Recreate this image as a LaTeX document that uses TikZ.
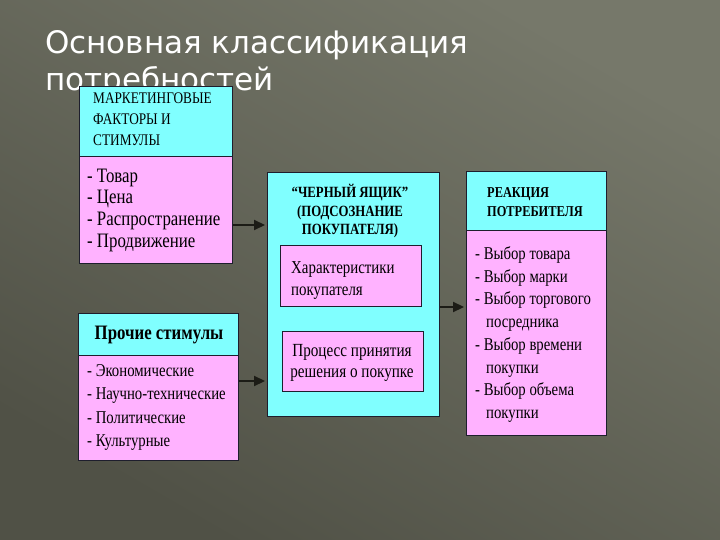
\documentclass[tikz,border=0pt]{standalone}
\usepackage{fontspec}
\setmainfont{Liberation Serif}
\newfontfamily\titlefont{DejaVu Sans}
\newfontfamily\boxfont{Liberation Serif}[FakeStretch=0.82]
\usetikzlibrary{arrows.meta, calc, positioning}

\definecolor{bgdark}{RGB}{80,81,70}
\definecolor{bglight}{RGB}{118,120,106}
\definecolor{boxcyan}{RGB}{128,255,255}
\definecolor{boxpink}{RGB}{255,178,255}
\definecolor{edge}{RGB}{30,30,45}
\definecolor{arrowc}{RGB}{28,28,22}

\tikzset{
  box/.style={draw=edge, line width=1pt, inner sep=0pt, anchor=north west},
  head/.style={box, fill=boxcyan},
  body/.style={box, fill=boxpink},
  txt/.style={inner sep=0pt, anchor=base west, text=black, font=\boxfont\fontsize{18}{20}\selectfont},
  bigtxt/.style={txt, font=\boxfont\fontsize{20.5}{22}\selectfont},
  caps/.style={txt, font=\boxfont\fontsize{16.2}{17}\selectfont},
  bcaps/.style={txt, font=\boxfont\bfseries\fontsize{15.6}{17}\selectfont},
  arr/.style={-{Triangle[length=11pt,width=10pt]}, line width=2.2pt, draw=arrowc, shorten >=2pt},
}

\begin{document}
\begin{tikzpicture}[x=1pt, y=-1pt]
    % Background
    \shade[bottom color=bgdark, top color=bglight, shading angle=-30] (0,0) rectangle (720,540);
    \useasboundingbox (0,0) rectangle (720,540);

    % Title
    \node[anchor=base west, inner sep=0pt, text=white, font=\titlefont\fontsize{31}{38}\selectfont] (title1) at (45,54) {Основная классификация};
    \node[anchor=base west, inner sep=0pt, text=white, font=\titlefont\fontsize{31}{38}\selectfont] (title2) at (45,91) {потребностей};

    % Marketing factors
    \node[head, minimum width=153, minimum height=70] (mkhead) at (79,86) {};
    \node[body, minimum width=153, minimum height=107] (mkbody) at (79,156) {};
    \node[caps] (mkcap1) at (93,104) {МАРКЕТИНГОВЫЕ};
    \node[caps] (mkcap2) at (93,125) {ФАКТОРЫ И};
    \node[caps] (mkcap3) at (93,146) {СТИМУЛЫ};
    \foreach \t [count=\i] in {Товар, Цена, Распространение, Продвижение}
        \node[bigtxt] (mk\i) at (87, {160.5+21.7*\i}) {- \t};

    % Other stimuli
    \node[head, minimum width=160, minimum height=42] (pshead) at (78,313) {};
    \node[body, minimum width=160, minimum height=105] (psbody) at (78,355) {};
    \node[txt, anchor=base, font=\boxfont\bfseries\fontsize{20.5}{20}\selectfont] (pscap) at (159,339) {Прочие стимулы};
    \foreach \t [count=\i] in {Экономические, Научно-технические, Политические, Культурные}
        \node[txt] (ps\i) at (87, {352.5+23.5*\i}) {- \t};

    % Black box
    \node[head, minimum width=172, minimum height=244] (bbox) at (267,172) {};
    \node[bcaps, anchor=base] (bcap1) at (350,198) {“ЧЕРНЫЙ ЯЩИК”};
    \node[bcaps, anchor=base] (bcap2) at (350,216) {(ПОДСОЗНАНИЕ};
    \node[bcaps, anchor=base] (bcap3) at (350,234) {ПОКУПАТЕЛЯ)};
    \node[body, minimum width=141, minimum height=61] (bchar) at (280,245) {};
    \node[txt, font=\boxfont\fontsize{18.2}{20}\selectfont] (bchar1) at (291,273) {Характеристики};
    \node[txt, font=\boxfont\fontsize{18.2}{20}\selectfont] (bchar2) at (291,295) {покупателя};
    \node[body, minimum width=141, minimum height=60] (bproc) at (282,331) {};
    \node[txt, anchor=base, font=\boxfont\fontsize{18.5}{20}\selectfont] (bproc1) at (352,356) {Процесс принятия};
    \node[txt, anchor=base, font=\boxfont\fontsize{18.5}{20}\selectfont] (bproc2) at (352,377) {решения о покупке};

    % Consumer reaction
    \node[head, minimum width=140, minimum height=59] (rhead) at (466,171) {};
    \node[body, minimum width=140, minimum height=205] (rbody) at (466,230) {};
    \node[bcaps, font=\boxfont\bfseries\fontsize{15.1}{16}\selectfont] (rcap1) at (487,197) {РЕАКЦИЯ};
    \node[bcaps, font=\boxfont\bfseries\fontsize{15.1}{16}\selectfont] (rcap2) at (487,216) {ПОТРЕБИТЕЛЯ};
    \node[txt] (r1) at (475,259) {- Выбор товара};
    \node[txt] (r2) at (475,282) {- Выбор марки};
    \node[txt] (r3) at (475,304) {- Выбор торгового};
    \node[txt] (r4) at (486,327) {посредника};
    \node[txt] (r5) at (475,350) {- Выбор времени};
    \node[txt] (r6) at (486,373) {покупки};
    \node[txt] (r7) at (475,395) {- Выбор объема};
    \node[txt] (r8) at (486,418) {покупки};

    % Arrows
    \coordinate (a1) at (mkbody.east |- 0,225);
    \coordinate (a2) at (psbody.east |- 0,381);
    \coordinate (a3) at (bbox.east |- 0,307);
    \draw[arr] (a1) -- (a1 -| bbox.west);
    \draw[arr] (a2) -- (a2 -| bbox.west);
    \draw[arr] (a3) -- (a3 -| rbody.west);

\end{tikzpicture}
\end{document}
